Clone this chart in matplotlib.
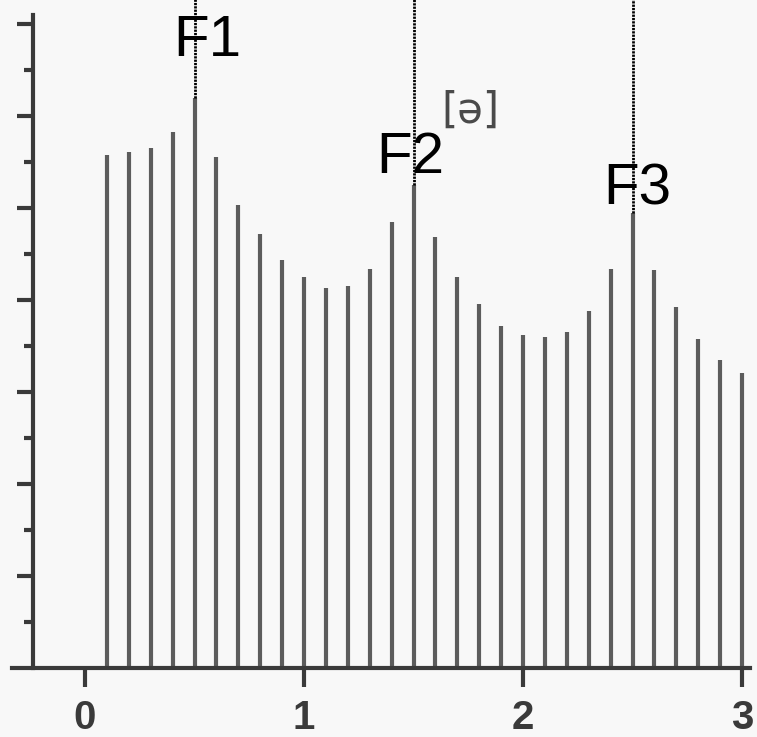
import matplotlib.pyplot as plt
import numpy as np

# harmonic number -> frequency (kHz); amplitude (dB)
harmonics = np.arange(1, 31)
freq_khz = harmonics * 0.1
level_db = [55.8, 56.1, 56.5, 58.2, 62.0, 55.5, 50.3, 47.2, 44.3, 42.5,
            41.3, 41.5, 43.4, 48.5, 52.5, 46.8, 42.5, 39.6, 37.2, 36.2,
            36.0, 36.5, 38.8, 43.4, 49.5, 43.3, 39.2, 35.8, 33.5, 32.1]

formant_names = ['F1', 'F2', 'F3']
formant_khz = [0.5, 1.5, 2.5]
formant_label_pos = [(0.557, 68.1), (1.484, 55.4), (2.52, 52.0)]

xticks = [0, 1, 2, 3]
vowel = '[ə]'

axis_col = '#3a3a3a'
line_col = '#5c5c5c'

fig = plt.figure(figsize=(7.57, 7.37), dpi=100, facecolor='#f8f8f8')
ax = fig.add_axes([0, 0, 1, 1])
ax.set_facecolor('#f8f8f8')

# harmonics
ax.vlines(freq_khz, 0, level_db, color=line_col, linewidth=3)

# formant markers: dotted line from the top down to the peak
for name, f, (tx, ty) in zip(formant_names, formant_khz, formant_label_pos):
    peak = level_db[int(round(f * 10)) - 1]
    ax.vlines(f, peak, 80, color='black', linewidth=2, linestyles=(0, (0.8, 0.4)))
    ax.text(tx, ty, name, fontsize=42, family='Liberation Sans',
            ha='center', va='center', color='black')

ax.text(1.758, 60.6, vowel, fontsize=30, color='#4a4a4a',
        ha='center', va='center', family='DejaVu Sans')

ax.set_xlim(-0.388, 3.068)
ax.set_ylim(-7.5, 72.6)

for s in ['top', 'right']:
    ax.spines[s].set_visible(False)
ax.spines['bottom'].set_position(('data', 0))
ax.spines['bottom'].set_bounds(-0.333, 3.037)
ax.spines['left'].set_position(('data', -0.237))
ax.spines['left'].set_bounds(0, 71)
for s in ['bottom', 'left']:
    ax.spines[s].set_color(axis_col)
    ax.spines[s].set_linewidth(3)

ax.set_xticks(xticks)
ax.set_xticklabels([str(t) for t in xticks], fontsize=29, fontweight='bold',
                   family='Liberation Sans', color=axis_col)
ax.tick_params(axis='x', direction='out', length=14, width=3, color=axis_col, pad=8)

ax.set_yticks(np.arange(10, 71, 10))
ax.set_yticks(np.arange(5, 71, 10), minor=True)
ax.tick_params(axis='y', which='major', direction='out', length=11.5, width=3,
               color=axis_col, labelleft=False)
ax.tick_params(axis='y', which='minor', direction='out', length=6.5, width=3,
               color=axis_col, labelleft=False)

fig.savefig('out.png', dpi=100, facecolor=fig.get_facecolor())
